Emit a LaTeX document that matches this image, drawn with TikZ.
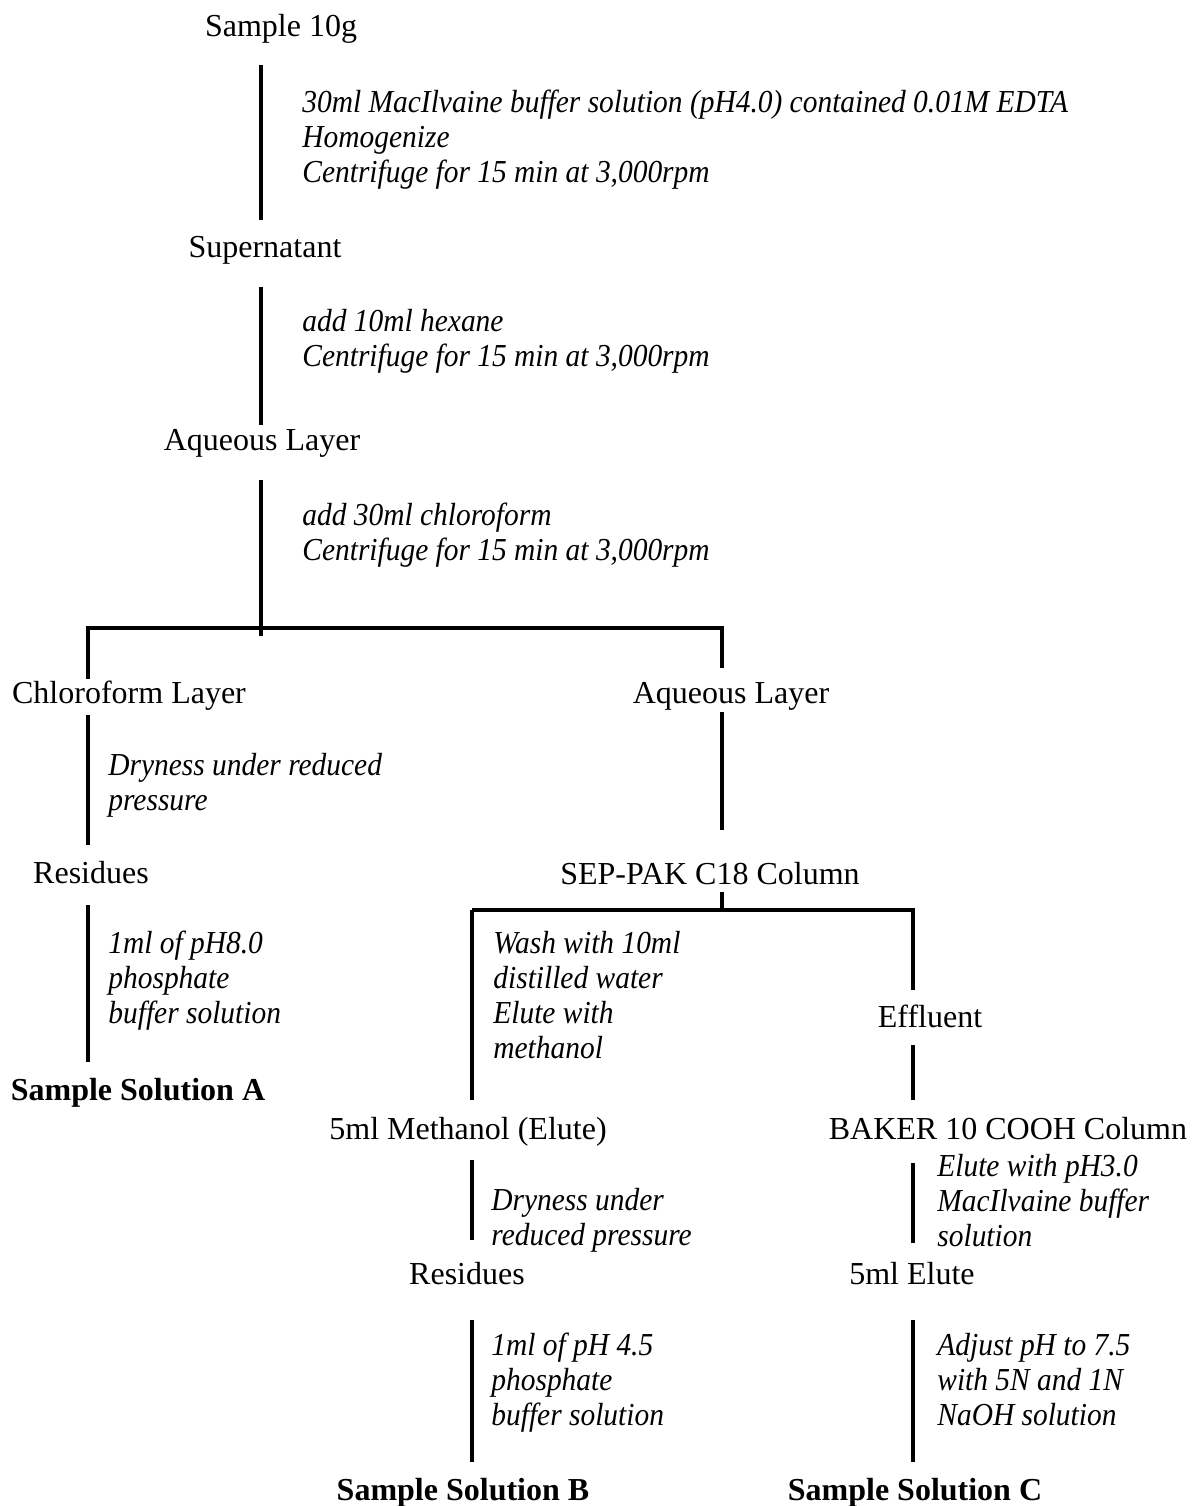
\documentclass[tikz,border=0pt]{standalone}
\usepackage{fontspec}
\setmainfont{Liberation Serif}[ItalicFeatures={FakeStretch=0.92}]
\usetikzlibrary{calc}
\tikzset{
	stage/.style={inner sep=0pt, anchor=base, text height=12pt, text depth=4pt,
			font=\fontsize{16}{17.5}\selectfont},
	result/.style={stage, font=\fontsize{16}{17.5}\selectfont\bfseries},
	note/.style={inner sep=0pt, anchor=north west, align=left,
			font=\fontsize{16}{17.5}\selectfont\itshape},
	link/.style={line width=1.6pt}
}

\begin{document}
\begin{tikzpicture}[x=0.5pt, y=-0.5pt]
	\useasboundingbox (0,0) rectangle (1195,1506);

	% columns of the flow lines
	\coordinate (trunk) at (261,0);
	\coordinate (left) at (88,0);
	\coordinate (right) at (722,0);
	\coordinate (wash) at (472,0);
	\coordinate (eflu) at (913,0);
	\coordinate (split) at (0,628);
	\coordinate (splitb) at (0,910);

	% steps
	\node[stage] (sample) at (281,36) {Sample 10g};
	\node[stage] (super) at (265,257) {Supernatant};
	\node[stage] (aqa) at (262,450) {Aqueous Layer};
	\node[stage] (chl) at (129,703) {Chloroform Layer};
	\node[stage] (aqb) at (731,703) {Aqueous Layer};
	\node[stage] (resa) at (91,883) {Residues};
	\node[stage] (sep) at (710,884) {SEP-PAK C18 Column};
	\node[stage] (eff) at (930,1027) {Effluent};
	\node[stage] (meth) at (468,1139) {5ml Methanol (Elute)};
	\node[stage] (baker) at (1008,1139) {BAKER 10 COOH Column};
	\node[stage] (resb) at (467,1284) {Residues};
	\node[stage] (elute) at (912,1284) {5ml Elute};
	\node[result] (sola) at (138,1100) {Sample Solution A};
	\node[result] (solb) at (463,1500) {Sample Solution B};
	\node[result] (solc) at (915,1500) {Sample Solution C};

	% treatments
	\node[note] (ta) at (302,90) {30ml MacIlvaine buffer solution (pH4.0) contained 0.01M EDTA\\Homogenize\\Centrifuge for 15 min at 3,000rpm};
	\node[note] (tb) at (302,309) {add 10ml hexane\\Centrifuge for 15 min at 3,000rpm};
	\node[note] (tc) at (302,503) {add 30ml chloroform\\Centrifuge for 15 min at 3,000rpm};
	\node[note] (td) at (108,753) {Dryness under reduced\\pressure};
	\node[note] (te) at (108,931) {1ml of pH8.0\\phosphate\\buffer solution};
	\node[note] (tf) at (493,931) {Wash with 10ml\\distilled water\\Elute with\\methanol};
	\node[note] (tg) at (491,1188) {Dryness under\\reduced pressure};
	\node[note] (th) at (491,1333) {1ml of pH 4.5\\phosphate\\buffer solution};
	\node[note] (ti) at (937,1154) {Elute with pH3.0\\MacIlvaine buffer\\solution};
	\node[note] (tj) at (937,1333) {Adjust pH to 7.5\\with 5N and 1N\\NaOH solution};

	% flow lines
	\draw[link, shorten <=10.5pt, shorten >=6.5pt] (sample.south -| trunk) -- (super.north -| trunk);
	\draw[link, shorten <=11pt, shorten >=0.5pt] (super.south -| trunk) -- (aqa.north -| trunk);
	\draw[link, shorten <=11pt, shorten >=-4pt] (aqa.south -| trunk) -- (split -| trunk);
	\draw[link, shorten >=5.5pt] (chl.north -| left) -- (split -| left) -- (split -| right) -- (aqb.north -| right);
	\draw[link, shorten <=2pt, shorten >=7pt] (chl.south -| left) -- (resa.north -| left);
	\draw[link, shorten <=7pt, shorten >=7pt] (resa.south -| left) -- (sola.north -| left);
	\draw[link, shorten <=0.5pt, shorten >=15pt] (aqb.south -| right) -- (sep.north -| right);
	\draw[link] (sep.south -| right) -- (splitb -| right);
	\draw[link, shorten >=7.5pt] (splitb -| wash) -- (meth.north -| wash);
	\draw[link, shorten >=6.5pt] (splitb -| wash) -- (splitb -| eflu) -- (eff.north -| eflu);
	\draw[link, shorten <=5pt, shorten >=7.5pt] (eff.south -| eflu) -- (baker.north -| eflu);
	\draw[link, shorten <=6.5pt, shorten >=10pt] (meth.south -| wash) -- (resb.north -| wash);
	\draw[link, shorten <=8pt, shorten >=8.5pt] (baker.south -| eflu) -- (elute.north -| eflu);
	\draw[link, shorten <=14pt, shorten >=7pt] (resb.south -| wash) -- (solb.north -| wash);
	\draw[link, shorten <=14pt, shorten >=7pt] (elute.south -| eflu) -- (solc.north -| eflu);
\end{tikzpicture}
\end{document}
